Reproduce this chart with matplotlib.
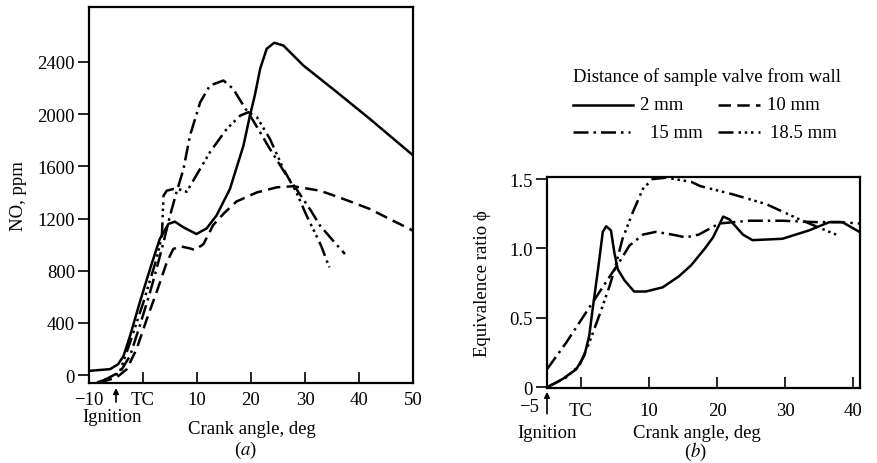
import matplotlib
matplotlib.use("Agg")
import matplotlib.pyplot as plt
from matplotlib.lines import Line2D

plt.rcParams['font.family'] = ['Liberation Serif', 'DejaVu Serif']
plt.rcParams['font.size'] = 13.5
plt.rcParams['mathtext.fontset'] = 'stix'

# (a) NO concentration, ppm vs crank angle
a_2mm_x = [-10, -6.1, -4.6, -3.6, -2.4, -0.6, 1.3, 3.1, 4.7, 5.9, 7.5, 9.9, 11.8, 13.6, 16.1,
           18.6, 19.8, 20.7, 21.7, 22.9, 24.3, 26, 29.7, 35.9, 42, 50]
a_2mm_y = [33, 46, 84, 148, 301, 557, 813, 1043, 1158, 1176, 1132, 1081, 1125, 1222, 1426,
           1758, 1988, 2142, 2347, 2500, 2546, 2525, 2372, 2168, 1963, 1684]

a_10mm_x = [-8, -4.9, -3.0, -1.2, 0.7, 2.5, 4.4, 5.6, 6.9, 8.7, 9.6, 11.2, 13, 15, 17.3,
            21.1, 24.8, 27.8, 32.8, 37.1, 42, 45, 50]
a_10mm_y = [-56, -18, 46, 199, 429, 634, 864, 966, 987, 971, 958, 1004, 1150, 1240, 1330,
            1400, 1439, 1447, 1413, 1350, 1273, 1210, 1107]

a_15mm_x = [-8.5, -6.7, -4.3, -2.4, -0.6, 1.3, 2.5, 3.8, 5.0, 6.2, 7.5, 8.7, 10.6, 12.4,
            14.9, 16.7, 18.6, 20.4, 23.5, 26.6, 28.4, 30.9, 32.8, 35.2, 37.4]
a_15mm_y = [-55, -31, 20, 148, 378, 634, 813, 1018, 1222, 1400, 1580, 1835, 2091, 2219,
            2257, 2193, 2065, 1950, 1733, 1528, 1426, 1273, 1145, 1030, 928]

a_185mm_x = [-7.4, -4.3, -2.4, 0.06, 2.5, 3.5, 3.8, 4.4, 5.6, 6.9, 8.1, 9.3, 12.4, 15.5,
             18.0, 19.5, 21.1, 23.5, 26.0, 28.4, 30.3, 31.5, 33.0, 34.5]
a_185mm_y = [-43, 25, 250, 557, 890, 1068, 1375, 1413, 1426, 1421, 1405, 1490, 1708, 1886,
             1988, 2014, 1976, 1810, 1580, 1401, 1222, 1120, 990, 826]

# (b) equivalence ratio vs crank angle
b_2mm_x = [-5, -2.7, -0.7, 0.5, 1.2, 1.7, 2.5, 3.2, 3.7, 4.4, 4.9, 5.4, 6.4, 7.8, 9.5, 12.0,
           14.4, 16.2, 18.2, 19.4, 20.9, 21.8, 23.8, 25.2, 29.6, 33.5, 36.5, 38.4, 40.9]
b_2mm_y = [0, 0.06, 0.13, 0.23, 0.37, 0.56, 0.85, 1.12, 1.16, 1.13, 0.97, 0.85, 0.77, 0.69,
           0.69, 0.72, 0.80, 0.88, 1.0, 1.08, 1.23, 1.21, 1.10, 1.06, 1.07, 1.13, 1.19, 1.19, 1.12]

b_15mm_x = [-5, -2.2, 0.75, 3.7, 5.6, 7.1, 9.1, 11.0, 13.4, 15.4, 17.3, 20.3, 24.7, 29.6,
            34.5, 38, 40.9]
b_15mm_y = [0.13, 0.32, 0.54, 0.76, 0.90, 1.02, 1.10, 1.12, 1.10, 1.08, 1.10, 1.18, 1.20,
            1.20, 1.19, 1.19, 1.18]

b_185mm_x = [-5, -2.2, -0.2, 1.2, 2.7, 4.2, 5.1, 6.1, 7.6, 9.1, 10.5, 12.5, 16.2, 17.5, 22.3,
             27.2, 32.1, 35, 37.5]
b_185mm_y = [0, 0.07, 0.16, 0.32, 0.52, 0.73, 0.88, 1.07, 1.26, 1.43, 1.50, 1.51, 1.48, 1.45,
             1.39, 1.32, 1.21, 1.15, 1.10]

a_yticks = [0, 400, 800, 1200, 1600, 2000, 2400]
a_xticks = [-10, 0, 10, 20, 30, 40, 50]
a_xlabels = ["\u221210", "TC", "10", "20", "30", "40", "50"]
b_yticks = [0, 0.5, 1.0, 1.5]
b_ylabels = ["0", "0.5", "1.0", "1.5"]
b_xticks = [-5, 0, 10, 20, 30, 40]
b_xlabels = ["", "TC", "10", "20", "30", "40"]

lw = 1.8
styles = {
    "2 mm": dict(color="black", lw=lw, linestyle="-"),
    "10 mm": dict(color="black", lw=lw, dashes=(5, 2.5)),
    "15 mm": dict(color="black", lw=lw, dashes=(6, 2, 1, 2)),
    "18.5 mm": dict(color="black", lw=lw, dashes=(6, 2, 1, 1.5, 1, 1.5, 1, 2)),
}

W, H = 877, 464
fig = plt.figure(figsize=(W / 100, H / 100), dpi=100)

ax1 = fig.add_axes([89 / W, 1 - 384 / H, (413 - 89) / W, (384 - 8) / H])
ax2 = fig.add_axes([547 / W, 1 - 389 / H, (860 - 547) / W, (389 - 178) / H])

ax1.plot(a_2mm_x, a_2mm_y, **styles["2 mm"])
ax1.plot(a_10mm_x, a_10mm_y, **styles["10 mm"])
ax1.plot(a_15mm_x, a_15mm_y, **styles["15 mm"])
ax1.plot(a_185mm_x, a_185mm_y, **styles["18.5 mm"])

ax2.plot(b_2mm_x, b_2mm_y, **styles["2 mm"])
ax2.plot(b_15mm_x, b_15mm_y, **styles["15 mm"])
ax2.plot(b_185mm_x, b_185mm_y, **styles["18.5 mm"])

ax1.set_xlim(-10, 50)
ax1.set_ylim(-60, 2820)
ax1.set_yticks(a_yticks)
ax1.set_xticks(a_xticks)
ax1.set_xticklabels(a_xlabels)

ax2.set_xlim(-5, 41)
ax2.set_ylim(-0.005, 1.515)
ax2.set_yticks(b_yticks)
ax2.set_yticklabels(b_ylabels)
ax2.set_xticks(b_xticks)
ax2.set_xticklabels(b_xlabels)

for ax in (ax1, ax2):
    for s in ax.spines.values():
        s.set_linewidth(1.6)
    ax.tick_params(axis="x", direction="in", length=8, width=1.2, pad=6)
    ax.tick_params(axis="y", direction="out", length=8, width=1.2, pad=2)
ax2.tick_params(axis="x", pad=10)

# axis labels
ax1.set_ylabel("NO, ppm")
ax1.yaxis.set_label_coords(-0.19, 0.5)
ax1.text(0.503, -0.122, "Crank angle, deg", transform=ax1.transAxes, ha="center", va="center")
ax1.text(0.484, -0.176, "($a$)", transform=ax1.transAxes, ha="center", va="center")
ax1.text(0.071, -0.09, "Ignition", transform=ax1.transAxes, ha="center", va="center")
ax1.annotate("", xy=(-5, -0.006), xytext=(-5, -0.058), xycoords=("data", "axes fraction"),
             arrowprops=dict(arrowstyle="-|>", color="black", lw=1.2, mutation_scale=8))

ax2.set_ylabel("Equivalence ratio \u03d5")
ax2.yaxis.set_label_coords(-0.18, 0.5)
ax2.text(0.48, -0.21, "Crank angle, deg", transform=ax2.transAxes, ha="center", va="center")
ax2.text(0.475, -0.30, "($b$)", transform=ax2.transAxes, ha="center", va="center")
ax2.text(0.0, -0.21, "Ignition", transform=ax2.transAxes, ha="center", va="center")
ax2.text(-0.058, -0.09, "\u22125", transform=ax2.transAxes, ha="center", va="center")
ax2.annotate("", xy=(-5, -0.005), xytext=(-5, -0.135), xycoords=("data", "axes fraction"),
             arrowprops=dict(arrowstyle="-|>", color="black", lw=1.2, mutation_scale=8))

# legend drawn by hand
fig.text(573 / W, 1 - 77 / H, "Distance of sample valve from wall", ha="left", va="center")
legend_rows = [("2 mm", 573, 633, 640, 106), ("10 mm", 718, 760, 767, 106),
               ("15 mm", 573, 630, 650, 133), ("18.5 mm", 718, 760, 770, 133)]
for name, x0, x1, xt, y in legend_rows:
    fig.add_artist(Line2D([x0 / W, x1 / W], [1 - y / H, 1 - y / H],
                          transform=fig.transFigure, **styles[name]))
    fig.text(xt / W, 1 - y / H, name, ha="left", va="center")

fig.savefig("out.png", dpi=100)
